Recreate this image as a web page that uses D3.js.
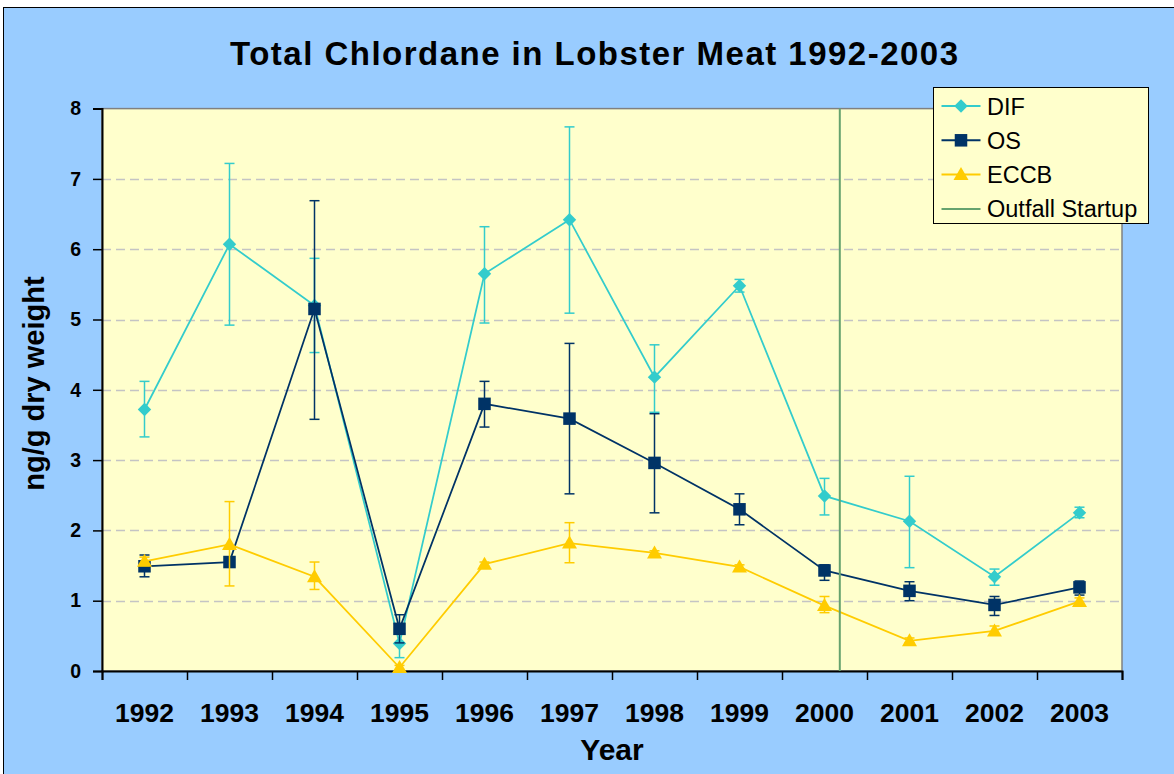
<!DOCTYPE html>
<html>
<head>
<meta charset="utf-8">
<script src="https://cdn.jsdelivr.net/npm/d3@7"></script>
<style>
  html, body { margin: 0; padding: 0; background: #ffffff; }
  svg { display: block; font-family: "Liberation Sans", Arial, sans-serif; }
</style>
</head>
<body>
<svg id="chart" width="1174" height="774"></svg>
<script>
// Survey years (categories on the x axis)
const years = [1992, 1993, 1994, 1995, 1996, 1997, 1998, 1999, 2000, 2001, 2002, 2003];

// Mean total chlordane, ng/g dry weight
const difValues  = [3.72, 6.07, 5.20, 0.39, 5.65, 6.42, 4.18, 5.48, 2.49, 2.13, 1.34, 2.25];
const osValues   = [1.49, 1.55, 5.15, 0.60, 3.80, 3.59, 2.96, 2.30, 1.43, 1.14, 0.94, 1.19];
const eccbValues = [1.56, 1.80, 1.34, 0.05, 1.52, 1.82, 1.68, 1.48, 0.93, 0.43, 0.57, 0.99];

// Error bar extents (low, high)
const difLow   = [3.33, 4.92, 4.53, 0.19, 4.95, 5.09, 3.68, 5.39, 2.22, 1.47, 1.22, 2.18];
const difHigh  = [4.12, 7.22, 5.87, 0.59, 6.32, 7.74, 4.64, 5.57, 2.74, 2.77, 1.45, 2.33];
const osLow    = [1.34, 1.50, 3.58, 0.40, 3.47, 2.52, 2.25, 2.08, 1.29, 1.00, 0.79, 1.08];
const osHigh   = [1.65, 1.60, 6.69, 0.80, 4.12, 4.66, 3.66, 2.52, 1.51, 1.27, 1.06, 1.28];
const eccbLow  = [1.50, 1.21, 1.16, 0.02, 1.49, 1.54, 1.65, 1.45, 0.83, 0.40, 0.52, 0.94];
const eccbHigh = [1.62, 2.41, 1.55, 0.08, 1.55, 2.11, 1.71, 1.51, 1.06, 0.47, 0.64, 1.04];

// Outfall startup (September 2000) as a fractional year
const outfallStartup = 2000.68;

const yTicks = [0, 1, 2, 3, 4, 5, 6, 7, 8];

const series = [
  { name: "DIF",  values: difValues,  low: difLow,  high: difHigh,  color: "#33CCCC", symbol: "diamond" },
  { name: "OS",   values: osValues,   low: osLow,   high: osHigh,   color: "#003366", symbol: "square" },
  { name: "ECCB", values: eccbValues, low: eccbLow, high: eccbHigh, color: "#FFCC00", symbol: "triangle" }
];

const svg = d3.select("#chart");

// Chart area background
svg.append("rect")
  .attr("x", 3.5).attr("y", 7.5).attr("width", 1180).attr("height", 780)
  .attr("fill", "#99CCFF").attr("stroke", "#000").attr("stroke-width", 1);

const plot = { left: 102, right: 1122, top: 108.6, bottom: 671 };

const x = d3.scaleLinear().domain([years[0], years[years.length - 1] + 1]).range([plot.left, plot.right]);
const y = d3.scaleLinear().domain([0, 8]).range([plot.bottom, plot.top]);

// Plot area
svg.append("rect")
  .attr("x", plot.left).attr("y", plot.top)
  .attr("width", plot.right - plot.left).attr("height", plot.bottom - plot.top)
  .attr("fill", "#FFFFCC").attr("stroke", "#808080").attr("stroke-width", 1.5);

// Horizontal dashed gridlines
svg.append("g").selectAll("line")
  .data(yTicks.filter(t => t > 0 && t < 8))
  .join("line")
  .attr("x1", plot.left).attr("x2", plot.right)
  .attr("y1", d => Math.round(y(d)) + 0.5).attr("y2", d => Math.round(y(d)) + 0.5)
  .attr("stroke", "#C4C4C4").attr("stroke-width", 1.5).attr("stroke-dasharray", "9,5");

// Y axis
const yAxis = svg.append("g")
  .attr("transform", `translate(${plot.left},0)`)
  .call(d3.axisLeft(y).tickValues(yTicks).tickSize(9).tickPadding(12).tickFormat(d3.format("d")));
yAxis.select(".domain").attr("stroke", "#000").attr("stroke-width", 2);
yAxis.selectAll(".tick line").attr("stroke", "#000").attr("stroke-width", 1.5);
yAxis.selectAll(".tick text")
  .attr("font-family", "Liberation Sans, Arial, sans-serif")
  .attr("font-size", 19.5).attr("font-weight", "bold").attr("fill", "#000");

// X axis: tick marks on category boundaries, labels centred in each category
const boundaries = d3.range(years[0], years[years.length - 1] + 2);
const xAxis = svg.append("g")
  .attr("transform", `translate(0,${plot.bottom})`)
  .call(d3.axisBottom(x).tickValues(boundaries).tickSize(9).tickFormat(""));
xAxis.select(".domain").attr("stroke", "#000").attr("stroke-width", 2);
xAxis.selectAll(".tick line").attr("stroke", "#000").attr("stroke-width", 1.5);

svg.append("g").selectAll("text")
  .data(years)
  .join("text")
  .attr("x", d => x(d + 0.5))
  .attr("y", 722)
  .attr("text-anchor", "middle")
  .attr("font-size", 26.5).attr("font-weight", "bold")
  .text(d => d);

// Axis titles
svg.append("text")
  .attr("x", x(1998)).attr("y", 760)
  .attr("text-anchor", "middle")
  .attr("font-size", 30).attr("font-weight", "bold")
  .text("Year");

svg.append("text")
  .attr("transform", `translate(44,383.5) rotate(-90)`)
  .attr("text-anchor", "middle")
  .attr("font-size", 29).attr("font-weight", "bold")
  .text("ng/g dry weight");

// Chart title
svg.append("text")
  .attr("x", 594).attr("y", 65)
  .attr("text-anchor", "middle")
  .attr("font-size", 33).attr("font-weight", "bold")
  .attr("textLength", 728).attr("lengthAdjust", "spacing")
  .text("Total Chlordane in Lobster Meat 1992-2003");

// Marker shapes
function markerPath(symbol) {
  if (symbol === "diamond") return d3.symbol(d3.symbolDiamond2, 115)();
  if (symbol === "square") return d3.symbol(d3.symbolSquare2, 200)();
  return "M0,-7.5L7.5,5.5L-7.5,5.5Z";
}

const line = d3.line()
  .x((d, i) => x(years[i] + 0.5))
  .y(d => y(d));

series.forEach(s => {
  const g = svg.append("g");
  // Error bars
  const eb = g.append("g").attr("stroke", s.color).attr("stroke-width", 1.5);
  years.forEach((yr, i) => {
    const cx = x(yr + 0.5);
    eb.append("line").attr("x1", cx).attr("x2", cx).attr("y1", y(s.low[i])).attr("y2", y(s.high[i]));
    eb.append("line").attr("x1", cx - 5).attr("x2", cx + 5).attr("y1", y(s.low[i])).attr("y2", y(s.low[i]));
    eb.append("line").attr("x1", cx - 5).attr("x2", cx + 5).attr("y1", y(s.high[i])).attr("y2", y(s.high[i]));
  });
  // Series line
  g.append("path")
    .attr("d", line(s.values))
    .attr("fill", "none").attr("stroke", s.color).attr("stroke-width", 1.75);
  // Markers
  g.append("g").selectAll("path")
    .data(s.values)
    .join("path")
    .attr("transform", (d, i) => `translate(${x(years[i] + 0.5)},${y(d)})`)
    .attr("d", markerPath(s.symbol))
    .attr("fill", s.color);
});

// Outfall startup marker line
svg.append("line")
  .attr("x1", x(outfallStartup)).attr("x2", x(outfallStartup))
  .attr("y1", plot.top).attr("y2", plot.bottom)
  .attr("stroke", "#66A36E").attr("stroke-width", 2);

// Legend
const legend = svg.append("g").attr("transform", "translate(933.5,87.5)");
legend.append("rect")
  .attr("width", 215).attr("height", 136)
  .attr("fill", "#FFFFCC").attr("stroke", "#000").attr("stroke-width", 1);

const legendItems = [
  ...series.map(s => ({ name: s.name, color: s.color, symbol: s.symbol })),
  { name: "Outfall Startup", color: "#66A36E", symbol: null }
];
legendItems.forEach((it, i) => {
  const ly = 18.5 + i * 34.3;
  const row = legend.append("g").attr("transform", `translate(0,${ly})`);
  row.append("line").attr("x1", 8).attr("x2", 47).attr("y1", 0).attr("y2", 0)
    .attr("stroke", it.color).attr("stroke-width", 2);
  if (it.symbol) {
    row.append("path").attr("transform", "translate(27.5,0)")
      .attr("d", markerPath(it.symbol)).attr("fill", it.color);
  }
  row.append("text")
    .attr("x", 53.5).attr("y", 8.5)
    .attr("font-size", 23.5)
    .text(it.name);
});
</script>
</body>
</html>
